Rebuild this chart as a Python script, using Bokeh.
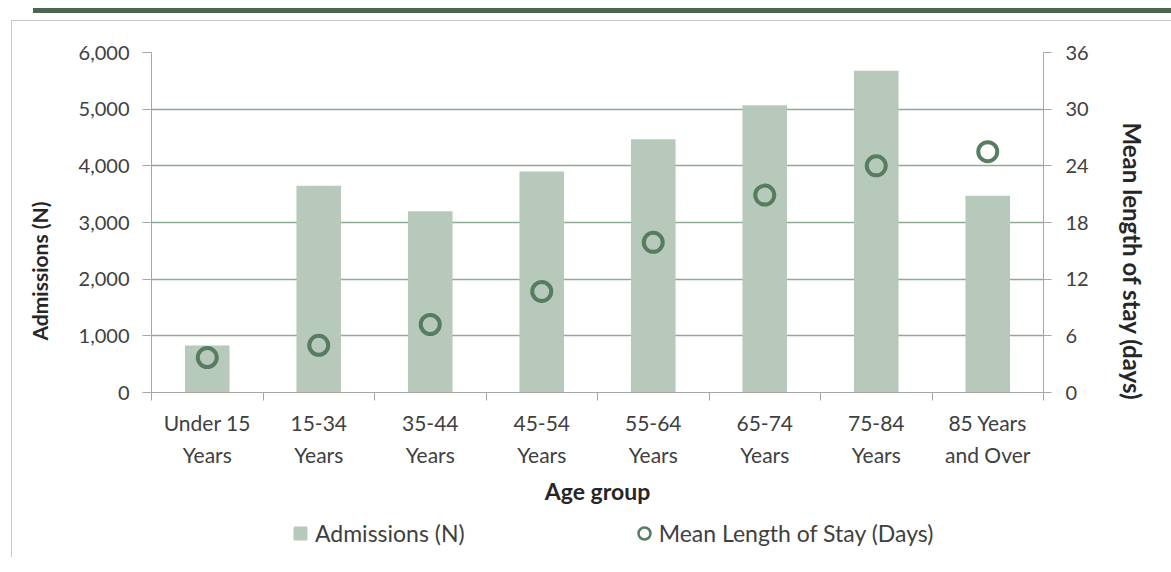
from bokeh.plotting import figure
from bokeh.layouts import column
from bokeh.models import (ColumnDataSource, Range1d, LinearAxis, FixedTicker,
                          NumeralTickFormatter, Legend, LegendItem, Title, InlineStyleSheet)
from bokeh.embed import file_html
from bokeh.resources import INLINE

# --- data -------------------------------------------------------------
categories = ["Under 15\nYears", "15-34\nYears", "35-44\nYears", "45-54\nYears",
              "55-64\nYears", "65-74\nYears", "75-84\nYears", "85 Years\nand Over"]
admissions = [830, 3650, 3200, 3900, 4470, 5070, 5680, 3470]
mean_los_days = [3.7, 5.0, 7.2, 10.7, 15.9, 20.9, 24.0, 25.5]
admissions_ticks = [0, 1000, 2000, 3000, 4000, 5000, 6000]
los_ticks = [0, 6, 12, 18, 24, 30, 36]

FONT = "Lato"
TEXT = "#404040"
TITLE = "#262626"
BAR = "#b6c9bb"
MARK = "#577c60"
GRID = "#8eab93"
AXIS = "#a6a6a6"

n = len(categories)
centers = [i + 0.5 for i in range(n)]
src = ColumnDataSource(dict(x=centers, adm=admissions, los=mean_los_days))

# page furniture: dark rule across the top and a light frame around the chart
frame_css = InlineStyleSheet(css="""
:host::before {
  content: ""; position: absolute; left: 11px; top: 20px; width: 1160px; height: 537px;
  box-sizing: border-box; border-left: 1px solid #c8c8c8; border-top: 1px solid #c8c8c8;
  pointer-events: none; z-index: 5;
}
:host::after {
  content: ""; position: absolute; left: 33px; top: 8px; width: 1138px; height: 5px;
  background: #4b6650; pointer-events: none; z-index: 5;
}
""")

# --- main chart -------------------------------------------------------
p = figure(frame_width=892, frame_height=340, output_backend="svg", toolbar_location=None,
           x_range=Range1d(0, n), y_range=Range1d(0, admissions_ticks[-1]),
           min_border_left=151, min_border_right=128, min_border_top=52,
           min_border_bottom=122)
p.extra_y_ranges = {"los": Range1d(0, los_ticks[-1])}
p.outline_line_color = None
p.background_fill_color = "white"
p.border_fill_color = "white"

bars = p.vbar(x="x", top="adm", width=0.4, source=src, fill_color=BAR, line_color=None)
pts = p.scatter(x="x", y="los", source=src, y_range_name="los", marker="circle",
                size=19, fill_color=None, line_color=MARK, line_width=4)

p.xaxis.ticker = FixedTicker(ticks=centers, minor_ticks=list(range(n + 1)))
p.xaxis.major_label_overrides = {c: lab for c, lab in zip(centers, categories)}
p.xaxis.major_tick_out = 0
p.xaxis.major_tick_in = 0
p.xaxis.minor_tick_out = 8
p.xaxis.minor_tick_in = 0
p.xaxis.minor_tick_line_color = AXIS
p.xaxis.axis_line_color = AXIS
p.xaxis.major_label_standoff = 9
p.xaxis.major_label_text_line_height = 1.3
p.xaxis.axis_label = "Age group"
p.xaxis.axis_label_standoff = 7
p.xaxis.axis_label_text_font = FONT
p.xaxis.axis_label_text_font_size = "23px"
p.xaxis.axis_label_text_font_style = "bold"
p.xaxis.axis_label_text_color = TITLE

p.yaxis.ticker = FixedTicker(ticks=admissions_ticks)
p.yaxis.formatter = NumeralTickFormatter(format="0,0")
p.yaxis.major_tick_out = 9
p.yaxis.major_tick_in = 0
p.yaxis.minor_tick_line_color = None
p.yaxis.axis_line_color = AXIS
p.yaxis.major_tick_line_color = AXIS
p.yaxis.major_label_standoff = 13

right = LinearAxis(y_range_name="los", ticker=FixedTicker(ticks=los_ticks),
                   major_tick_out=8, major_tick_in=0, minor_tick_line_color=None,
                   axis_line_color=AXIS, major_tick_line_color=AXIS,
                   major_label_standoff=14)
p.add_layout(right, "right")

for ax in [p.xaxis[0], p.yaxis[0], right]:
    ax.major_label_text_font = FONT
    ax.major_label_text_font_size = "20px"
    ax.major_label_text_color = TEXT
p.xaxis.major_label_text_font_size = "21px"

p.xgrid.grid_line_color = None
p.ygrid.grid_line_color = GRID
p.ygrid.grid_line_width = 1.5

# y axis titles
title_style = dict(text_font=FONT, text_font_style="bold", text_color=TITLE, align="left")
p.add_layout(Title(text="Admissions (N)", text_font_size="21px", offset=52,
                   standoff=47, **title_style), "left")
p.add_layout(Title(text="Mean length of stay (days)", text_font_size="24px", offset=70,
                   standoff=53, **title_style), "right")

# --- legend strip under the chart --------------------------------------
leg = figure(width=1171, height=50, output_backend="svg", toolbar_location=None,
             x_axis_type=None, y_axis_type=None, min_border=0,
             x_range=Range1d(0, 1), y_range=Range1d(0, 1))
leg.outline_line_color = None
leg.grid.visible = False
# key swatches share the chart's data source; the renderers themselves stay hidden
key_bar = leg.scatter(x="x", y="adm", source=src, marker="square", fill_color=BAR,
                      line_color=BAR, line_width=2, visible=False)
key_mark = leg.scatter(x="x", y="los", source=src, marker="circle", fill_color=None,
                       line_color=MARK, line_width=2.5, visible=False)
legend = Legend(items=[LegendItem(label="Admissions (N)", renderers=[key_bar]),
                       LegendItem(label="Mean Length of Stay (Days)", renderers=[key_mark])],
                orientation="horizontal", location=(134, 16),
                padding=0, margin=0, spacing=164, label_standoff=-1,
                glyph_width=30, glyph_height=30, border_line_color=None,
                background_fill_alpha=0, label_text_font=FONT,
                label_text_font_size="23px", label_text_color=TEXT)
leg.add_layout(legend)

page = column(p, leg, spacing=0, stylesheets=[frame_css])
open("out.html", "w").write(file_html(page, INLINE))
